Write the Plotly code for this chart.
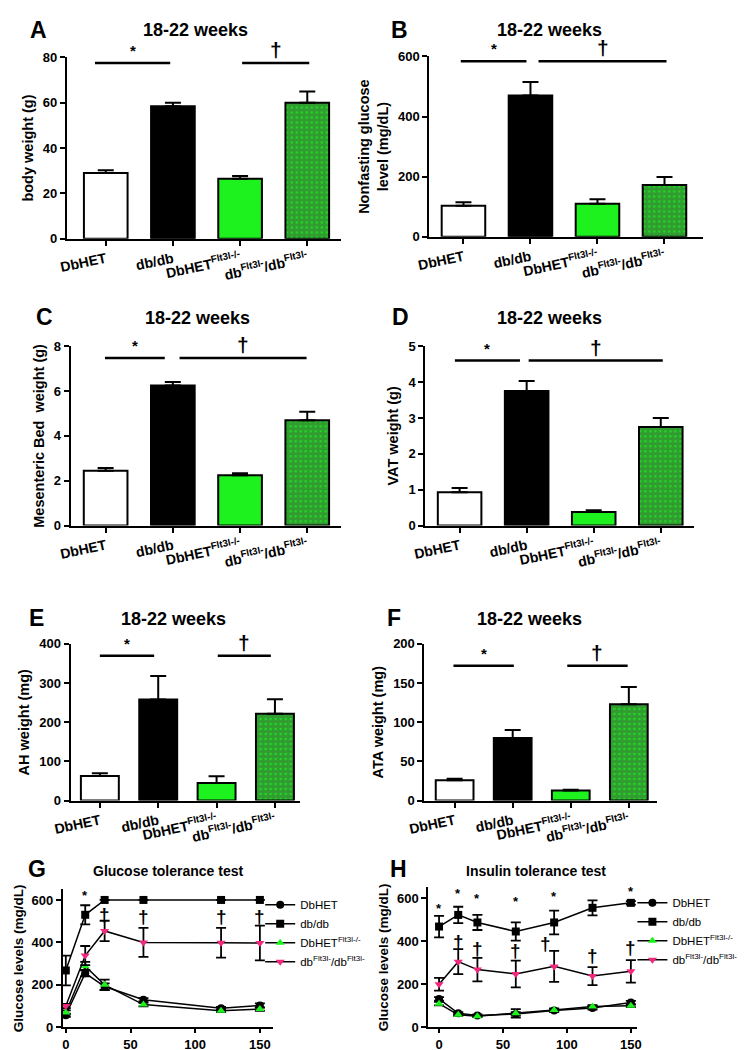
import plotly.graph_objects as go

W, H = 746, 1050
FONT = "Liberation Sans, Arial, sans-serif"
GREEN = "#1ef21e"
PINK = "#f2287e"

# ---------------- data ----------------
groups = ["DbHET", "db/db", "DbHET<sup>Flt3l-/-</sup>", "db<sup>Flt3l-</sup>/db<sup>Flt3l-</sup>"]

body_weight = [29, 58.5, 26.5, 60]
body_weight_err = [1.2, 1.5, 1.2, 5]
glucose = [103, 470, 110, 172]
glucose_err = [12, 45, 15, 27]
mesenteric = [2.45, 6.25, 2.25, 4.7]
mesenteric_err = [0.12, 0.15, 0.08, 0.38]
vat = [0.93, 3.75, 0.38, 2.75]
vat_err = [0.12, 0.28, 0.05, 0.25]
ah = [63, 258, 45, 222]
ah_err = [7, 60, 17, 37]
ata = [26, 80, 13, 123]
ata_err = [2, 10, 1, 22]

t_gtt = [0, 15, 30, 60, 120, 150]
dbhet_gtt = [57, 255, 192, 130, 90, 103]
dbhet_gtt_err = [8, 15, 15, 8, 6, 10]
dbdb_gtt = [268, 530, 600, 600, 600, 600]
dbdb_gtt_err = [70, 45, 0, 0, 0, 0]
dbhetf_gtt = [70, 288, 200, 107, 78, 86]
dbhetf_gtt_err = [10, 20, 25, 8, 6, 8]
dbf_gtt = [100, 338, 454, 400, 398, 397]
dbf_gtt_err = [10, 45, 48, 68, 70, 82]

t_itt = [0, 15, 30, 60, 90, 120, 150]
dbhet_itt = [132, 65, 55, 62, 78, 90, 115]
dbhet_itt_err = [8, 6, 5, 8, 6, 8, 8]
dbdb_itt = [468, 522, 487, 445, 487, 555, 578]
dbdb_itt_err = [50, 38, 35, 42, 55, 35, 8]
dbhetf_itt = [110, 58, 52, 65, 80, 97, 100]
dbhetf_itt_err = [8, 5, 5, 20, 8, 6, 6]
dbf_itt = [200, 305, 268, 248, 283, 238, 260]
dbf_itt_err = [30, 58, 55, 62, 72, 42, 52]

series_names = ["DbHET", "db/db", "DbHET<sup>Flt3l-/-</sup>", "db<sup>Flt3l-</sup>/db<sup>Flt3l-</sup>"]

# ---------------- layout helpers ----------------
def dom(px0, px1, py0, py1):
    return [px0 / W, px1 / W], [1 - py1 / H, 1 - py0 / H]

fig = go.Figure()
layout = dict(
    width=W, height=H, margin=dict(l=0, r=0, t=0, b=0),
    paper_bgcolor="white", plot_bgcolor="white",
    font=dict(family=FONT, color="black"),
    annotations=[], shapes=[],
)

tickfont = dict(family=FONT, size=13, color="black", weight="bold")
titlefont = dict(family=FONT, size=14.5, color="black", weight="bold")

def axis_common():
    return dict(showline=True, linecolor="black", linewidth=2, ticks="outside",
                ticklen=5, tickwidth=2, tickcolor="black", showgrid=False,
                zeroline=False, tickfont=tickfont)

bar_panels = [
    ("A", body_weight, body_weight_err, 80, 20, "body weight (g)", (43, 325, 43, 227), [-0.58, 3.5],
     [(-0.16, 0.96, 77.5, "*"), (2.03, 3.03, 77.5, "†")], (175, 15), (14, 15)),
    ("B", glucose, glucose_err, 600, 200, "Nonfasting glucose<br>level (mg/dL)", (416, 698, 42, 225), [-0.51, 3.58],
     [(-0.04, 0.94, 584, "*"), (1.12, 3.03, 584, "†")], (540, 15), (385, 15)),
    ("C", mesenteric, mesenteric_err, 8, 2, "Mesenteric Bed  weight (g)", (47, 325, 336, 518), [-0.52, 3.5],
     [(-0.01, 0.88, 7.47, "*"), (1.1, 2.99, 7.47, "†")], (177, 307), (20, 306)),
    ("D", vat, vat_err, 5, 1, "VAT weight (g)", (412, 688, 336, 518), [-0.51, 3.49],
     [(-0.07, 0.9, 4.6, "*"), (1.03, 3.03, 4.6, "†")], (540, 307), (386, 306)),
    ("E", ah, ah_err, 400, 100, "AH weight (mg)", (47, 283, 638, 797), [-0.5, 3.43],
     [(0.0, 0.93, 370, "*"), (2.02, 2.93, 370, "†")], (153, 613), (12, 612)),
    ("F", ata, ata_err, 200, 50, "ATA weight (mg)", (411, 650, 638, 797), [-0.52, 3.48],
     [(-0.02, 1.02, 172, "*"), (1.94, 2.98, 172, "†")], (519, 613), (380, 612)),
]

for i, (letter, vals, errs, ymax, dtick, ytitle, box, xr, brackets, tpos, lpos) in enumerate(bar_panels):
    n = i + 1
    xs = "x" if n == 1 else f"x{n}"
    ys = "y" if n == 1 else f"y{n}"
    xd, yd = dom(*box)
    fig.add_trace(go.Bar(
        x=[0, 1, 2, 3], y=vals, xaxis=xs, yaxis=ys, width=0.65, showlegend=False,
        marker=dict(color=["white", "black", GREEN, GREEN],
                    line=dict(color="black", width=2),
                    pattern=dict(shape=["", "", "", "."], fgcolor="black", bgcolor=GREEN,
                                 size=5, solidity=0.8, fillmode="overlay")),
        error_y=dict(type="data", array=errs, arrayminus=[0] * 4, symmetric=False,
                     color="black", thickness=2, width=8),
    ))
    xa = axis_common()
    xa.update(domain=xd, range=xr, tickvals=[0, 1, 2, 3], ticktext=groups, tickangle=-12,
              anchor=ys, tickfont=dict(family=FONT, size=14, color="black", weight="bold"))
    ya = axis_common()
    ya.update(domain=yd, range=[0, ymax], dtick=dtick, tick0=0, anchor=xs,
              title=dict(text=ytitle, font=titlefont, standoff=6))
    layout["xaxis" if n == 1 else f"xaxis{n}"] = xa
    layout["yaxis" if n == 1 else f"yaxis{n}"] = ya
    for (x0, x1, yv, sym) in brackets:
        layout["shapes"].append(dict(type="line", xref=xs, yref=ys, x0=x0, x1=x1, y0=yv, y1=yv,
                                     line=dict(color="black", width=2.5)))
        layout["annotations"].append(dict(
            xref=xs, yref=ys, x=(x0 + x1) / 2, y=yv, yanchor="bottom", yshift=2 if sym == "*" else 0,
            text=sym, showarrow=False,
            font=dict(family=FONT, size=15 if sym == "*" else 21, color="black", weight="bold")))
    layout["annotations"].append(dict(xref="paper", yref="paper", x=tpos[0] / W, y=1 - tpos[1] / H,
                                      text="18-22 weeks", showarrow=False, xanchor="center", yanchor="middle",
                                      font=dict(family=FONT, size=18, color="black", weight="bold")))
    layout["annotations"].append(dict(xref="paper", yref="paper", x=lpos[0] / W, y=1 - lpos[1] / H,
                                      text=letter, showarrow=False, xanchor="center", yanchor="middle",
                                      font=dict(family=FONT, size=23, color="black", weight="bold")))

# ---------------- line panels ----------------
line_panels = [
    ("G", "Glucose tolerance test", t_gtt,
     [(dbhet_gtt, dbhet_gtt_err), (dbdb_gtt, dbdb_gtt_err), (dbhetf_gtt, dbhetf_gtt_err), (dbf_gtt, dbf_gtt_err)],
     (39, 255, 887, 1027), [-2.25, 160], "legend", (242, 888), (148, 868), (12, 866),
     [15, 30, 60, 120, 150], [622, 660, 660, 660, 660],
     [30, 60, 120, 150], [530, 520, 520, 520]),
    ("H", "Insulin tolerance test", t_itt,
     [(dbhet_itt, dbhet_itt_err), (dbdb_itt, dbdb_itt_err), (dbhetf_itt, dbhetf_itt_err), (dbf_itt, dbf_itt_err)],
     (415, 630, 885, 1027), [-8.4, 155], "legend2", (625, 886), (526, 868), (384, 866),
     [0, 15, 30, 60, 90, 120, 150], [552, 620, 597, 584, 609, 654, 632],
     [15, 30, 60, 83, 120, 150], [400, 365, 355, 390, 335, 370]),
]

styles = [
    dict(symbol="circle", color="black"),
    dict(symbol="square", color="black"),
    dict(symbol="triangle-up", color=GREEN),
    dict(symbol="triangle-down", color=PINK),
]

for j, (letter, ttl, tvals, data, box, xr, leg, legpos, tpos, lpos, sx, sy, dx, dy) in enumerate(line_panels):
    n = 7 + j
    xs, ys = f"x{n}", f"y{n}"
    xd, yd = dom(*box)
    for k, (vals, errs) in enumerate(data):
        fig.add_trace(go.Scatter(
            x=tvals, y=vals, xaxis=xs, yaxis=ys, mode="lines+markers", name=series_names[k],
            legend=leg, cliponaxis=False,
            line=dict(color="black", width=1.5),
            marker=dict(symbol=styles[k]["symbol"], color=styles[k]["color"], size=8,
                        line=dict(width=0)),
            error_y=dict(type="data", array=errs, color="black", thickness=1.8, width=5),
        ))
    xa = axis_common()
    xa.update(domain=xd, range=xr, tickvals=[0, 50, 100, 150], anchor=ys, ticklen=4)
    ya = axis_common()
    ya.update(domain=yd, range=[0, 650], tickvals=[0, 200, 400, 600], anchor=xs,
              title=dict(text="Glucose levels (mg/dL)", font=dict(family=FONT, size=13.5, color="black",
                                                                   weight="bold"), standoff=5))
    layout[f"xaxis{n}"] = xa
    layout[f"yaxis{n}"] = ya
    for xv, yv in zip(sx, sy):
        layout["annotations"].append(dict(xref=xs, yref=ys, x=xv, y=yv, text="*", showarrow=False,
                                          font=dict(family=FONT, size=13, color="black", weight="bold")))
    for xv, yv in zip(dx, dy):
        layout["annotations"].append(dict(xref=xs, yref=ys, x=xv, y=yv, text="†", showarrow=False,
                                          font=dict(family=FONT, size=19, color="black", weight="bold")))
    layout["annotations"].append(dict(xref="paper", yref="paper", x=tpos[0] / W, y=1 - tpos[1] / H,
                                      text=ttl, showarrow=False, xanchor="center", yanchor="middle",
                                      font=dict(family=FONT, size=14, color="black", weight="bold")))
    layout["annotations"].append(dict(xref="paper", yref="paper", x=lpos[0] / W, y=1 - lpos[1] / H,
                                      text=letter, showarrow=False, xanchor="center", yanchor="middle",
                                      font=dict(family=FONT, size=23, color="black", weight="bold")))
    layout[leg] = dict(x=legpos[0] / W, y=1 - legpos[1] / H, xanchor="left", yanchor="top",
                       bgcolor="rgba(0,0,0,0)", font=dict(family=FONT, size=11.5, color="black"),
                       tracegroupgap=0, itemwidth=30)

fig.update_layout(**layout)
fig.write_html("out.html")
